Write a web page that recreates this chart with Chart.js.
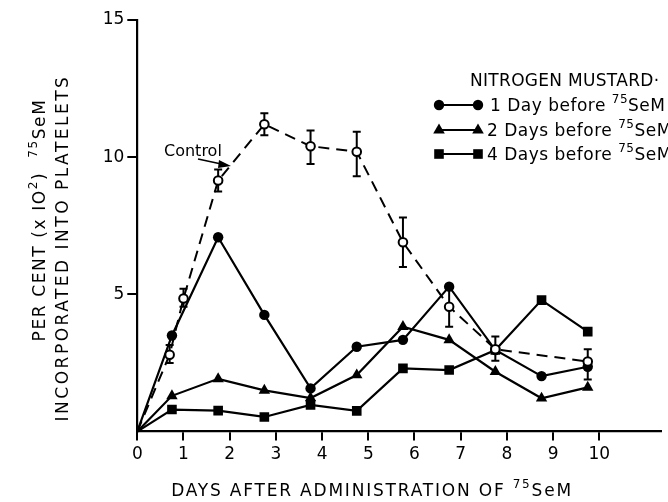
<!DOCTYPE html>
<html>
<head>
<meta charset="utf-8">
<script src="https://cdn.jsdelivr.net/npm/chart.js@4/dist/chart.umd.min.js"></script>
<style>
  html, body { margin: 0; padding: 0; background: #fff; }
  #wrap { width: 668px; height: 502px; position: relative; }
</style>
</head>
<body>
<div id="wrap"><canvas id="c" width="668" height="502"></canvas></div>
<script>
// ---- Data ----
const xTicks = [0, 1, 2, 3, 4, 5, 6, 7, 8, 9, 10];
const yTicks = [5, 10, 15];

const mustardDays = [0, 0.75, 1.75, 2.75, 3.75, 4.75, 5.75, 6.75, 7.75, 8.75, 9.75];
const oneDayBefore   = [0, 3.5, 7.08, 4.25, 1.57, 3.09, 3.34, 5.28, 2.97, 2.02, 2.36];
const twoDaysBefore  = [0, 1.3, 1.92, 1.5, 1.22, 2.06, 3.82, 3.34, 2.18, 1.21, 1.61];
const fourDaysBefore = [0, 0.8, 0.76, 0.53, 0.97, 0.75, 2.3, 2.24, 2.97, 4.79, 3.64];

const controlDays   = [0, 0.7, 1.0, 1.75, 2.75, 3.75, 4.75, 5.75, 6.75, 7.75, 9.75];
const controlValues = [0, 2.8, 4.85, 9.15, 11.2, 10.4, 10.2, 6.9, 4.55, 3.0, 2.55];
const controlLow    = [null, 2.5, 4.55, 8.75, 10.8, 9.75, 9.3, 6.0, 3.82, 2.58, 1.9];
const controlHigh   = [null, 3.15, 5.2, 9.55, 11.6, 10.97, 10.93, 7.8, 5.2, 3.46, 3.0];

const legendTitle = 'NITROGEN MUSTARD·';
const legendLabels = ['1 Day before ', '2 Days before ', '4 Days before '];
const isotope = ['75', 'SeM'];
const xTitle = ['DAYS AFTER ADMINISTRATION OF ', '75', 'SeM'];
const yTitle1 = ['PER CENT (x IO', '2', ')  ', '75', 'SeM'];
const yTitle2 = 'INCORPORATED INTO PLATELETS';
const controlLabel = 'Control';

const FONT = '"DejaVu Sans", "Liberation Sans", sans-serif';

function pts(xs, ys) { return xs.map((x, i) => ({ x: x, y: ys[i] })); }
function radii(n, r) { return Array.from({ length: n }, (_, i) => i === 0 ? 0 : r); }

// rich text with superscript segments
function drawRich(ctx, segs, x, y, size, supIdx, align, spacing) {
  const supSize = Math.round(size * 0.68);
  ctx.letterSpacing = (spacing || 0) + 'px';
  let total = 0;
  const widths = segs.map((s, i) => {
    ctx.font = (supIdx.includes(i) ? supSize : size) + 'px ' + FONT;
    const w = ctx.measureText(s).width;
    total += w;
    return w;
  });
  let cx = align === 'center' ? x - total / 2 : x;
  segs.forEach((s, i) => {
    const sup = supIdx.includes(i);
    ctx.font = (sup ? supSize : size) + 'px ' + FONT;
    ctx.textAlign = 'left';
    ctx.textBaseline = 'alphabetic';
    ctx.fillText(s, cx, sup ? y - size * 0.45 : y);
    cx += widths[i];
  });
  ctx.letterSpacing = '0px';
}

function marker(ctx, style, x, y) {
  ctx.save();
  ctx.fillStyle = '#000';
  ctx.beginPath();
  if (style === 'circle') {
    ctx.arc(x, y, 5.2, 0, Math.PI * 2);
  } else if (style === 'triangle') {
    ctx.moveTo(x, y - 6.5);
    ctx.lineTo(x + 5.8, y + 3.5);
    ctx.lineTo(x - 5.8, y + 3.5);
    ctx.closePath();
  } else {
    ctx.rect(x - 4.8, y - 4.8, 9.6, 9.6);
  }
  ctx.fill();
  ctx.restore();
}

const decorations = {
  id: 'decorations',
  beforeDraw(chart) {
    const ctx = chart.ctx;
    ctx.save();
    ctx.fillStyle = '#fff';
    ctx.fillRect(0, 0, chart.width, chart.height);
    ctx.restore();
  },
  afterDatasetsDraw(chart) {
    const ctx = chart.ctx;
    const xs = chart.scales.x, ys = chart.scales.y;
    ctx.save();
    ctx.strokeStyle = '#000';
    ctx.lineWidth = 2;
    controlDays.forEach((d, i) => {
      if (controlLow[i] == null) return;
      const px = xs.getPixelForValue(d);
      const pl = ys.getPixelForValue(controlLow[i]);
      const ph = ys.getPixelForValue(controlHigh[i]);
      ctx.beginPath();
      ctx.moveTo(px, pl); ctx.lineTo(px, ph);
      ctx.moveTo(px - 4, pl); ctx.lineTo(px + 4, pl);
      ctx.moveTo(px - 4, ph); ctx.lineTo(px + 4, ph);
      ctx.stroke();
    });
    controlDays.forEach((d, i) => {
      if (i === 0) return;
      const px = xs.getPixelForValue(d);
      const py = ys.getPixelForValue(controlValues[i]);
      ctx.beginPath();
      ctx.arc(px, py, 4.3, 0, Math.PI * 2);
      ctx.fillStyle = '#fff';
      ctx.fill();
      ctx.stroke();
    });
    ctx.restore();
  },
  afterDraw(chart) {
    const ctx = chart.ctx;
    ctx.save();
    ctx.fillStyle = '#000';
    ctx.strokeStyle = '#000';
    // legend
    drawRich(ctx, [legendTitle], 470, 86, 17, [], 'left', 0.3);
    const rows = [105, 130, 154];
    const styles = ['circle', 'triangle', 'rect'];
    rows.forEach((ry, i) => {
      ctx.lineWidth = 2.2;
      ctx.beginPath();
      ctx.moveTo(438, ry); ctx.lineTo(479, ry);
      ctx.stroke();
      marker(ctx, styles[i], 439, ry);
      marker(ctx, styles[i], 478, ry);
      drawRich(ctx, [legendLabels[i], isotope[0], isotope[1]], i === 0 ? 490 : 487, ry + 6, 17, [1], 'left', 0.5);
    });
    // Control annotation
    ctx.font = '16px ' + FONT;
    ctx.textAlign = 'left';
    ctx.fillText(controlLabel, 164, 156);
    ctx.lineWidth = 1.7;
    ctx.beginPath();
    ctx.moveTo(198, 159); ctx.lineTo(226, 165);
    ctx.stroke();
    ctx.beginPath();
    ctx.moveTo(231, 166); ctx.lineTo(219, 160); ctx.lineTo(218, 168); ctx.closePath();
    ctx.fill();
    // x title
    drawRich(ctx, xTitle, 372, 496, 17, [1], 'center', 1.8);
    // y titles (rotated)
    ctx.save();
    ctx.translate(45, 220);
    ctx.rotate(-Math.PI / 2);
    drawRich(ctx, yTitle1, 0, 0, 17, [1, 3], 'center', 1.6);
    ctx.restore();
    ctx.save();
    ctx.translate(68, 248);
    ctx.rotate(-Math.PI / 2);
    drawRich(ctx, [yTitle2], 0, 0, 17, [], 'center', 2.5);
    ctx.restore();
    ctx.restore();
  }
};

const solid = (data, style, r) => ({
  data: data,
  borderColor: '#000',
  backgroundColor: '#000',
  borderWidth: 2.2,
  pointStyle: style,
  pointRadius: radii(data.length, r),
  pointBorderWidth: 0,
  pointBackgroundColor: '#000',
  showLine: true,
  tension: 0,
  order: 2
});

new Chart(document.getElementById('c'), {
  type: 'line',
  data: {
    datasets: [
      {
        data: pts(controlDays, controlValues),
        borderColor: '#000',
        borderWidth: 2,
        borderDash: [11, 7],
        pointRadius: 0,
        showLine: true,
        tension: 0,
        order: 1
      },
      solid(pts(mustardDays, oneDayBefore), 'circle', 5.2),
      solid(pts(mustardDays, twoDaysBefore), 'triangle', 6.6),
      solid(pts(mustardDays, fourDaysBefore), 'rect', 6.8)
    ]
  },
  options: {
    responsive: false,
    animation: false,
    events: [],
    layout: { padding: { top: 20, right: 0, left: 0, bottom: 0 } },
    plugins: { legend: { display: false }, tooltip: { enabled: false } },
    scales: {
      x: {
        type: 'linear',
        min: 0,
        max: 11.34,
        afterBuildTicks: s => { s.ticks = xTicks.map(v => ({ value: v })); },
        afterFit: s => { s.height = 70.5; },
        ticks: { color: '#000', font: { family: FONT, size: 17 }, padding: 4, maxRotation: 0, autoSkip: false },
        grid: { drawOnChartArea: false, drawTicks: true, tickLength: 9, color: '#000', lineWidth: 2 },
        border: { display: true, color: '#000', width: 2.2 }
      },
      y: {
        min: 0,
        max: 15,
        afterBuildTicks: s => { s.ticks = yTicks.map(v => ({ value: v })); },
        afterFit: s => { s.width = 137.3; },
        ticks: { color: '#000', font: { family: FONT, size: 17 }, padding: 3 },
        grid: { drawOnChartArea: false, drawTicks: true, tickLength: 10, color: '#000', lineWidth: 2 },
        border: { display: true, color: '#000', width: 2.2 }
      }
    }
  },
  plugins: [decorations]
});
</script>
</body>
</html>
